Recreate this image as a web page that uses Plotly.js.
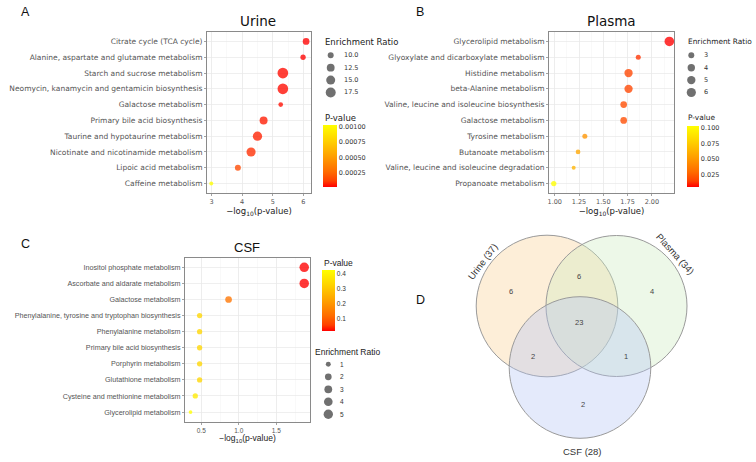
<!DOCTYPE html>
<html><head><meta charset="utf-8">
<script src="https://cdn.plot.ly/plotly-3.0.1.min.js"></script>
<style>html,body{margin:0;padding:0;background:#fff;}#chart{width:756px;height:462px;}</style>
</head><body><div id="chart"></div>
<script>
// ---------------- DATA ----------------
// Panel A: Urine
const urinePathways = ["Citrate cycle (TCA cycle)", "Alanine, aspartate and glutamate metabolism", "Starch and sucrose metabolism", "Neomycin, kanamycin and gentamicin biosynthesis", "Galactose metabolism", "Primary bile acid biosynthesis", "Taurine and hypotaurine metabolism", "Nicotinate and nicotinamide metabolism", "Lipoic acid metabolism", "Caffeine metabolism"];
const urineLogP = [6.09, 5.99, 5.33, 5.33, 5.26, 4.70, 4.50, 4.29, 3.86, 2.99];
const urineRatio = [10.8, 9.5, 19.6, 19.4, 9.2, 12.8, 15.7, 15.3, 10.0, 9.1];
const urinePval = [0.00002, 0.000025, 0.000035, 0.000035, 0.00004, 0.00006, 0.00007, 0.00009, 0.00015, 0.00103];
const urineXTicks = [3, 4, 5, 6];
const urineRatioBreaks = [10.0, 12.5, 15.0, 17.5];
const urinePTicks = [0.00025, 0.0005, 0.00075, 0.001];

// Panel B: Plasma
const plasmaPathways = ["Glycerolipid metabolism", "Glyoxylate and dicarboxylate metabolism", "Histidine metabolism", "beta-Alanine metabolism", "Valine, leucine and isoleucine biosynthesis", "Galactose metabolism", "Tyrosine metabolism", "Butanoate metabolism", "Valine, leucine and isoleucine degradation", "Propanoate metabolism"];
const plasmaLogP = [2.18, 1.86, 1.76, 1.76, 1.71, 1.71, 1.31, 1.24, 1.195, 0.99];
const plasmaRatio = [6.6, 2.63, 4.9, 4.9, 3.45, 3.45, 2.63, 2.56, 2.5, 2.72];
const plasmaPval = [0.0063, 0.0138, 0.0174, 0.0174, 0.0195, 0.0195, 0.049, 0.0575, 0.0638, 0.103];
const plasmaXTicks = [1.00, 1.25, 1.50, 1.75, 2.00];
const plasmaRatioBreaks = [3, 4, 5, 6];
const plasmaPTicks = [0.025, 0.050, 0.075, 0.100];

// Panel C: CSF
const csfPathways = ["Inositol phosphate metabolism", "Ascorbate and aldarate metabolism", "Galactose metabolism", "Phenylalanine, tyrosine and tryptophan biosynthesis", "Phenylalanine metabolism", "Primary bile acid biosynthesis", "Porphyrin metabolism", "Glutathione metabolism", "Cysteine and methionine metabolism", "Glycerolipid metabolism"];
const csfLogP = [1.873, 1.873, 0.864, 0.478, 0.478, 0.478, 0.478, 0.478, 0.42, 0.357];
const csfRatio = [5.2, 5.2, 2.0, 1.13, 1.13, 1.13, 1.13, 1.13, 1.13, 0.8];
const csfPval = [0.018, 0.018, 0.137, 0.333, 0.333, 0.333, 0.333, 0.333, 0.38, 0.425];
const csfXTicks = [0.5, 1.0, 1.5];
const csfRatioBreaks = [1, 2, 3, 4, 5];
const csfPTicks = [0.1, 0.2, 0.3, 0.4];

// Panel D: Venn
const vennSets = ["Urine", "Plasma", "CSF"];
const vennSetTotals = [37, 34, 28];
const vennRegionNames = ["Urine only", "Urine & Plasma", "Plasma only", "All three", "Urine & CSF", "Plasma & CSF", "CSF only"];
const vennRegionCounts = [6, 6, 4, 23, 2, 1, 2];

// ---------------- LAYOUT HELPERS ----------------
const W = 756, H = 462;
const fx = p => p / W, fy = p => 1 - p / H;
const DJ = "DejaVu Sans", LB = "Liberation Sans, Arial, sans-serif";
const colorscale = [[0, "rgb(255,0,0)"], [0.1, "rgb(255,65,0)"], [0.25, "rgb(255,108,0)"], [0.5, "rgb(255,161,0)"], [0.75, "rgb(255,210,0)"], [1, "rgb(255,255,0)"]];

function sizeScale(values, dmin, dmax) {
  const lo = Math.min(...values), hi = Math.max(...values);
  return v => dmin + (dmax - dmin) * Math.sqrt(Math.max(0, (v - lo) / (hi - lo)));
}

const panels = [
  {key: "", cats: urinePathways, x: urineLogP, r: urineRatio, p: urinePval, xt: urineXTicks, fmt: "d",
   box: [207, 311, 32, 193], range: [2.85, 6.25], minor: 0.5, font: DJ, catSize: 7.5, tickSize: 6.5, legSize: 8.5,
   size: sizeScale(urineRatio, 4, 10.7), breaks: urineRatioBreaks, bfmt: v => v.toFixed(1),
   ptick: urinePTicks, pfmt: ".5f", cb: [323, 125, 62, 13.5],
   title: ["Urine", 258, 20.7, 13.5], letter: ["A", 25, 11.7],
   erTitle: [323, 41.7], pTitle: [323, 117.7], dots: [330.7, 55.3, 12.4], lab: 341.7},
  {key: "2", cats: plasmaPathways, x: plasmaLogP, r: plasmaRatio, p: plasmaPval, xt: plasmaXTicks, fmt: ".2f",
   box: [549, 674, 32, 193], range: [0.941, 2.228], minor: 0.125, font: DJ, catSize: 7.5, tickSize: 6.5, legSize: 7.4,
   size: sizeScale(plasmaRatio, 4, 9.6), breaks: plasmaRatioBreaks, bfmt: v => String(v),
   ptick: plasmaPTicks, pfmt: ".3f", cb: [686.5, 125.7, 61, 12],
   title: ["Plasma", 611.5, 20.7, 13.5], letter: ["B", 419.7, 11.7],
   erTitle: [686.3, 41.7], pTitle: [686.3, 117.7], dots: [691.3, 55.3, 12.4], lab: 702},
  {key: "3", cats: csfPathways, x: csfLogP, r: csfRatio, p: csfPval, xt: csfXTicks, fmt: ".1f",
   box: [185, 310, 257.7, 421.7], range: [0.283, 1.95], minor: 0.25, font: LB, catSize: 7.2, tickSize: 6.5, legSize: 8.5,
   size: sizeScale(csfRatio, 3.7, 9.5), breaks: csfRatioBreaks, bfmt: v => String(v),
   ptick: csfPTicks, pfmt: ".1f", cb: [321.7, 270, 60.7, 12.5],
   title: ["CSF", 246.7, 247.7, 13], letter: ["C", 25.7, 243.7],
   erTitle: [312.7, 351.7], pTitle: [321.7, 262.7], dots: [328.3, 364.3, 12.5], lab: 338.3}
];

const data = [], annotations = [], shapes = [];
const layout = {
  width: W, height: H, margin: {l: 0, r: 0, t: 0, b: 0},
  paper_bgcolor: "#fff", plot_bgcolor: "rgba(0,0,0,0)", showlegend: false,
  font: {family: DJ, color: "#333"}, hovermode: false
};

panels.forEach((pn, i) => {
  const xa = "xaxis" + pn.key, ya = "yaxis" + pn.key, xr = "x" + pn.key, yr = "y" + pn.key;
  const ca = "coloraxis" + (pn.key || "");
  layout[xa] = {
    domain: [fx(pn.box[0]), fx(pn.box[1])], anchor: yr, range: pn.range,
    tickmode: "array", tickvals: pn.xt, tickformat: pn.fmt,
    showgrid: true, gridcolor: "#e8e8e8", gridwidth: 0.7,
    minor: {dtick: pn.minor, tick0: 0, showgrid: true, gridcolor: "#f4f4f4", gridwidth: 0.5},
    showline: true, mirror: true, linecolor: "#8a8a8a", linewidth: 1,
    ticks: "outside", ticklen: 2, tickcolor: "#666", tickwidth: 0.6,
    tickfont: {family: pn.font, size: pn.tickSize, color: "#555"},
    zeroline: false, automargin: false, fixedrange: true,
    title: {text: "\u2212log<sub>10</sub>(p-value)", font: {family: pn.font, size: 8.5, color: "#222"}, standoff: 0}
  };
  layout[ya] = {
    domain: [fy(pn.box[3]), fy(pn.box[2])], anchor: xr, type: "category",
    categoryorder: "array", categoryarray: pn.cats, range: [pn.cats.length - 0.4, -0.6],
    showgrid: true, gridcolor: "#e8e8e8", gridwidth: 0.7,
    showline: true, mirror: true, linecolor: "#8a8a8a", linewidth: 1,
    ticks: "outside", ticklen: 2, tickcolor: "#666", tickwidth: 0.6,
    tickfont: {family: pn.font, size: pn.catSize, color: "#555"},
    zeroline: false, automargin: false, fixedrange: true
  };
  layout[ca] = {
    colorscale: colorscale,
    colorbar: {
      x: fx(pn.cb[0]), xanchor: "left", y: fy(pn.cb[1]), yanchor: "top",
      len: pn.cb[2], lenmode: "pixels", thickness: pn.cb[3], thicknessmode: "pixels",
      xpad: 0, ypad: 0, outlinewidth: 0, tickmode: "array", tickvals: pn.ptick, tickformat: pn.pfmt,
      ticks: "", tickfont: {family: pn.font, size: 6.5, color: "#333"}
    }
  };
  data.push({
    type: "scatter", mode: "markers", x: pn.x, y: pn.cats, xaxis: xr, yaxis: yr,
    marker: {size: pn.r.map(pn.size), color: pn.p, coloraxis: ca, opacity: 0.78, line: {width: 0}},
    cliponaxis: false, hoverinfo: "skip"
  });
  // size legend keys on the pixel overlay axes
  data.push({
    type: "scatter", mode: "markers", xaxis: "x4", yaxis: "y4",
    x: pn.breaks.map(() => pn.dots[0]), y: pn.breaks.map((b, k) => pn.dots[1] + k * pn.dots[2]),
    marker: {size: pn.breaks.map(pn.size), color: "#333", line: {width: 0}},
    cliponaxis: false, hoverinfo: "skip"
  });
  pn.breaks.forEach((b, k) => annotations.push({
    xref: "paper", yref: "paper", x: fx(pn.lab), y: fy(pn.dots[1] + k * pn.dots[2]),
    xanchor: "left", yanchor: "middle", showarrow: false, text: pn.bfmt(b),
    font: {family: pn.font, size: 6.5, color: "#333"}
  }));
  annotations.push({xref: "paper", yref: "paper", x: fx(pn.erTitle[0]), y: fy(pn.erTitle[1]), xanchor: "left", yanchor: "middle",
    showarrow: false, text: "Enrichment Ratio", font: {family: pn.font, size: pn.legSize, color: "#222"}});
  annotations.push({xref: "paper", yref: "paper", x: fx(pn.pTitle[0]), y: fy(pn.pTitle[1]), xanchor: "left", yanchor: "middle",
    showarrow: false, text: "P-value", font: {family: pn.font, size: pn.legSize, color: "#222"}});
  annotations.push({xref: "paper", yref: "paper", x: fx(pn.title[1]), y: fy(pn.title[2]), xanchor: "center", yanchor: "middle",
    showarrow: false, text: pn.title[0], font: {family: pn.font, size: pn.title[3], color: "#111"}});
  annotations.push({xref: "paper", yref: "paper", x: fx(pn.letter[1]), y: fy(pn.letter[2]), xanchor: "center", yanchor: "middle",
    showarrow: false, text: pn.letter[0], font: {family: LB, size: 12.5, color: "#111"}});
});

// pixel-coordinate overlay axes (legend keys + Venn)
layout.xaxis4 = {domain: [0, 1], range: [0, W], visible: false, fixedrange: true, anchor: "y4"};
layout.yaxis4 = {domain: [0, 1], range: [H, 0], visible: false, fixedrange: true, anchor: "x4"};

// Venn circles (geometry) and fills
const vennGeom = [[547, 306, 70.8], [616.5, 306, 70.5], [580, 367.5, 70.8]];
const vennFill = ["rgba(249,209,146,0.36)", "rgba(204,235,192,0.36)", "rgba(181,198,244,0.36)"];
vennGeom.forEach((g, i) => shapes.push({
  type: "circle", xref: "x4", yref: "y4", x0: g[0] - g[2], x1: g[0] + g[2], y0: g[1] - g[2], y1: g[1] + g[2],
  fillcolor: vennFill[i], line: {color: "#9a9a9a", width: 1}, layer: "above"
}));
const vennRegionPos = [[511, 291.7], [579.3, 276], [652, 291], [578.7, 322], [533.3, 356], [626, 356], [582.7, 404.3]];
vennRegionCounts.forEach((c, i) => annotations.push({
  xref: "x4", yref: "y4", x: vennRegionPos[i][0], y: vennRegionPos[i][1], showarrow: false,
  text: String(c), font: {family: LB, size: 7.5, color: "#444"}
}));
const vennLabelPos = [[482.3, 261, -53], [675, 253.3, 48], [582.3, 451.7, 0]];
vennSets.forEach((s, i) => annotations.push({
  xref: "x4", yref: "y4", x: vennLabelPos[i][0], y: vennLabelPos[i][1], showarrow: false,
  textangle: vennLabelPos[i][2], text: s + " (" + vennSetTotals[i] + ")", font: {family: LB, size: 9.5, color: "#333"}
}));
annotations.push({xref: "paper", yref: "paper", x: fx(420), y: fy(300), xanchor: "center", yanchor: "middle",
  showarrow: false, text: "D", font: {family: LB, size: 12.5, color: "#111"}});

layout.annotations = annotations;
layout.shapes = shapes;
Plotly.newPlot("chart", data, layout, {staticPlot: true, displayModeBar: false});
</script></body></html>
